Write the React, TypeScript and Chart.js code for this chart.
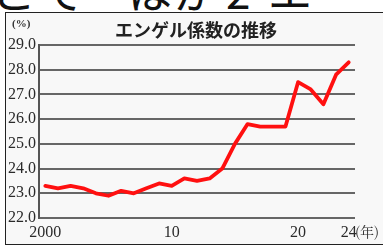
import React, { useEffect, useRef } from "react";
import { Chart, registerables } from "chart.js";

Chart.register(...registerables);

const years = [
  "2000", "2001", "2002", "2003", "2004", "2005", "2006", "2007", "2008", "2009",
  "2010", "2011", "2012", "2013", "2014", "2015", "2016", "2017", "2018", "2019",
  "2020", "2021", "2022", "2023", "2024",
];
const engel = [
  23.3, 23.2, 23.3, 23.2, 23.0, 22.9, 23.1, 23.0, 23.2, 23.4,
  23.3, 23.6, 23.5, 23.6, 24.0, 25.0, 25.8, 25.7, 25.7, 25.7,
  27.5, 27.2, 26.6, 27.8, 28.3,
];
const xTickLabels: Record<string, string> = { "2000": "2000", "2010": "10", "2020": "20", "2024": "24" };
const yMin = 22;
const yMax = 29;
const yStep = 1;
const title = "エンゲル係数の推移";
const yUnit = "(%)";
const xUnit = "(年)";
const headlineChars = [
  { ch: "こ", x: -8 },
  { ch: "て", x: 40 },
  { ch: "は", x: 128 },
  { ch: "が", x: 174 },
  { ch: "2", x: 226 },
  { ch: "エ", x: 268 },
];

export default function App() {
  const ref = useRef<HTMLCanvasElement | null>(null);

  useEffect(() => {
    if (!ref.current) return;
    const chart = new Chart(ref.current, {
      type: "line",
      data: {
        labels: years,
        datasets: [
          {
            data: engel,
            borderColor: "#ff1010",
            borderWidth: 3.8,
            pointRadius: 0,
            tension: 0,
            borderJoinStyle: "round",
            borderCapStyle: "round",
          },
        ],
      },
      options: {
        animation: false,
        responsive: false,
        layout: { padding: { top: 45, right: 28, left: 0, bottom: 0 } },
        plugins: { legend: { display: false }, tooltip: { enabled: false }, title: { display: false } },
        scales: {
          x: {
            type: "category",
            offset: true,
            grid: { display: false, drawTicks: false },
            border: { display: false },
            ticks: {
              autoSkip: false,
              maxRotation: 0,
              padding: 5,
              color: "#2a2a2a",
              font: { family: "'Liberation Serif', serif", size: 16 },
              callback: (_v: any, i: number) => xTickLabels[years[i]] ?? "",
            },
            afterFit: (s: any) => {
              s.height = 33;
            },
          },
          y: {
            min: yMin,
            max: yMax,
            grid: { color: "#666", lineWidth: 2, drawTicks: false },
            border: { display: true, color: "#555", width: 2 },
            ticks: {
              stepSize: yStep,
              padding: 3,
              color: "#2a2a2a",
              font: { family: "'Liberation Serif', serif", size: 16 },
              callback: (v: any) => Number(v).toFixed(1),
            },
            afterFit: (s: any) => {
              s.width = 39;
            },
          },
        },
      },
    });
    return () => chart.destroy();
  }, []);

  return (
    <div style={{ position: "fixed", left: 0, top: 0, width: 383, height: 251, background: "#fff", overflow: "hidden" }}>
      <div style={{ position: "absolute", left: 0, top: 0, width: 383, height: 12, overflow: "hidden" }}>
        {headlineChars.map((c, i) => (
          <span
            key={i}
            style={{
              position: "absolute",
              left: c.x,
              top: -32,
              fontFamily: "'Noto Sans CJK JP', sans-serif",
              fontSize: 44,
              lineHeight: "44px",
              color: "#111",
            }}
          >
            {c.ch}
          </span>
        ))}
      </div>
      <div
        style={{
          position: "absolute",
          left: 5,
          top: 12,
          width: 390,
          height: 233,
          boxSizing: "border-box",
          border: "1px solid #222",
          background: "#f8f8f8",
        }}
      />
      <canvas ref={ref} width={383} height={251} style={{ position: "absolute", left: 0, top: 0 }} />
      <div
        style={{
          position: "absolute",
          left: 115,
          top: 19,
          fontFamily: "'Noto Sans CJK JP', sans-serif",
          fontWeight: 700,
          fontSize: 18,
          lineHeight: "20px",
          color: "#222",
          whiteSpace: "nowrap",
        }}
      >
        {title}
      </div>
      <div
        style={{
          position: "absolute",
          left: 12,
          top: 17,
          fontFamily: "'Liberation Serif', serif",
          fontWeight: 700,
          fontSize: 11,
          lineHeight: "12px",
          color: "#333",
        }}
      >
        {yUnit}
      </div>
      <div
        style={{
          position: "absolute",
          left: 355,
          top: 223,
          fontFamily: "'Noto Serif CJK JP', 'Liberation Serif', serif",
          fontSize: 14,
          lineHeight: "16px",
          color: "#333",
          whiteSpace: "nowrap",
        }}
      >
        {xUnit}
      </div>
    </div>
  );
}
